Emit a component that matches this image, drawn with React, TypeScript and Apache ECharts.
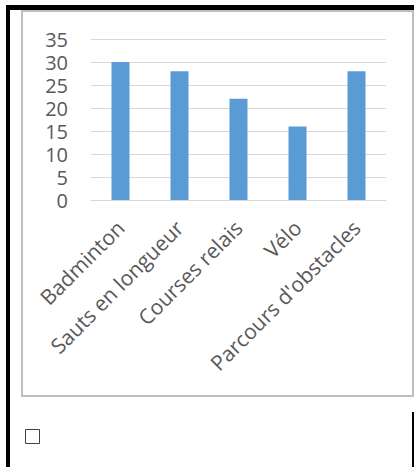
import React, { useEffect, useRef } from "react";
import * as echarts from "echarts";

const categories = ["Badminton", "Sauts en longueur", "Courses relais", "Vélo", "Parcours d'obstacles"];
const values = [30, 28, 22, 16, 28];
const yMin = 0;
const yMax = 35;
const yInterval = 5;

export default function App() {
  const ref = useRef<HTMLDivElement>(null);
  useEffect(() => {
    const chart = echarts.init(ref.current!, null, { renderer: "svg" });
    const font = "'Open Sans', sans-serif";
    chart.setOption({
      animation: false,
      backgroundColor: "#ffffff",
      grid: { left: 91, right: 28, top: 39, bottom: 267, containLabel: false },
      xAxis: {
        type: "category",
        data: categories,
        axisLine: { show: true, lineStyle: { color: "#d9d9d9", width: 1 } },
        axisTick: { show: false },
        axisLabel: { rotate: 45, color: "#595959", fontSize: 21, fontFamily: font, margin: 24, interval: 0 },
      },
      yAxis: {
        type: "value",
        min: yMin,
        max: yMax,
        interval: yInterval,
        axisLine: { show: false },
        axisTick: { show: false },
        splitLine: { lineStyle: { color: "#d9d9d9", width: 1 } },
        axisLabel: { color: "#595959", fontSize: 20, lineHeight: 20, fontFamily: font, margin: 23 },
      },
      series: [
        {
          type: "bar",
          data: values,
          barWidth: 18,
          itemStyle: { color: "#5b9bd5" },
        },
      ],
      graphic: [
        { type: "rect", z: 100, shape: { x: 22, y: 11, width: 391, height: 385 }, style: { fill: "none", stroke: "#bfbfbf", lineWidth: 2 } },
        { type: "rect", z: 101, shape: { x: 6, y: 5, width: 408, height: 5 }, style: { fill: "#000" } },
        { type: "rect", z: 101, shape: { x: 6, y: 5, width: 4, height: 462 }, style: { fill: "#000" } },
        { type: "rect", z: 101, shape: { x: 412, y: 412, width: 2, height: 55 }, style: { fill: "#000" } },
        { type: "rect", z: 101, shape: { x: 25.5, y: 429.5, width: 14, height: 14 }, style: { fill: "none", stroke: "#404040", lineWidth: 1 } },
      ],
    });
    return () => chart.dispose();
  }, []);
  return (
    <div style={{ position: "fixed", left: 0, top: 0, width: 414, height: 467, background: "#fff" }}>
      <div ref={ref} style={{ width: 414, height: 467 }} />
    </div>
  );
}
